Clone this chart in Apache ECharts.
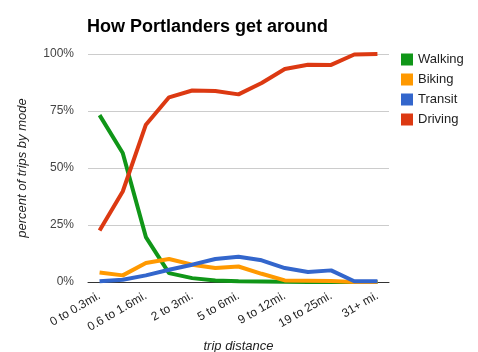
<!DOCTYPE html>
<html>
<head>
<meta charset="utf-8">
<script src="https://cdn.jsdelivr.net/npm/echarts@6/dist/echarts.min.js"></script>
<style>
  html, body { margin: 0; padding: 0; background: #fff; }
  #chart { width: 478px; height: 352px; }
</style>
</head>
<body>
<div id="chart"></div>
<script>
var distances = ['0 to 0.3mi.', '0.3 to 0.6mi.', '0.6 to 1.6mi.', '1.6 to 2mi.', '2 to 3mi.', '3 to 5mi.',
    '5 to 6mi.', '6 to 9mi.', '9 to 12mi.', '12 to 19mi.', '19 to 25mi.', '25 to 31mi.', '31+ mi.'];
var walking = [73.2, 56.6, 19.7, 3.9, 1.7, 0.7, 0.3, 0.2, 0.1, 0, 0, 0, 0];
var biking  = [4.2, 2.9, 8.3, 10.1, 7.6, 6.1, 6.8, 3.6, 0.7, 0.6, 0.4, 0, 0];
var transit = [0.3, 1.0, 2.9, 5.4, 7.6, 10.1, 11.1, 9.5, 6.1, 4.4, 5.1, 0.3, 0.3];
var driving = [22.6, 39.7, 69.0, 81.0, 84.0, 83.8, 82.3, 87.3, 93.4, 95.3, 95.2, 99.8, 100];
var modeNames = ['Walking', 'Biking', 'Transit', 'Driving'];
var modeColors = ['#109618', '#ff9900', '#3366cc', '#dc3912'];

var font = 'Arial, "Liberation Sans", sans-serif';
var chart = echarts.init(document.getElementById('chart'), null, { renderer: 'canvas' });

var series = [walking, biking, transit, driving].map(function (vals, i) {
    return {
        name: modeNames[i],
        type: 'line',
        data: vals,
        symbol: 'none',
        lineStyle: { width: 4, color: modeColors[i] },
        itemStyle: { color: modeColors[i] },
        animation: false
    };
});

chart.setOption({
    backgroundColor: '#fff',
    title: {
        text: 'How Portlanders get around',
        left: 82, top: 13,
        textStyle: { fontFamily: font, fontSize: 18, fontWeight: 'bold', color: '#000' }
    },
    legend: {
        orient: 'vertical',
        left: 401, top: 53,
        padding: 0,
        icon: 'rect',
        itemWidth: 12, itemHeight: 12, itemGap: 7,
        textStyle: { fontFamily: font, fontSize: 13, color: '#222' },
        data: modeNames
    },
    grid: { left: 88, right: 89, top: 54, bottom: 70, containLabel: false, outerBoundsMode: 'none' },
    xAxis: {
        type: 'category',
        data: distances,
        boundaryGap: true,
        name: 'trip distance',
        nameLocation: 'middle',
        nameGap: 52,
        nameTextStyle: { fontFamily: font, fontSize: 13, fontStyle: 'italic', color: '#222' },
        axisLine: { lineStyle: { color: '#333', width: 1 } },
        axisTick: { show: false },
        axisLabel: { interval: 1, rotate: 30, margin: 13, fontFamily: font, fontSize: 12, color: '#222' }
    },
    yAxis: {
        type: 'value',
        min: 0, max: 100, interval: 25,
        name: 'percent of trips by mode',
        nameLocation: 'middle',
        nameGap: 59,
        nameTextStyle: { fontFamily: font, fontSize: 13, fontStyle: 'italic', color: '#222' },
        axisLine: { show: false },
        axisTick: { show: false },
        splitLine: { lineStyle: { color: '#ccc' } },
        axisLabel: { formatter: '{value}%', margin: 14, fontFamily: font, fontSize: 12, color: '#444' }
    },
    series: series
});
</script>
</body>
</html>
